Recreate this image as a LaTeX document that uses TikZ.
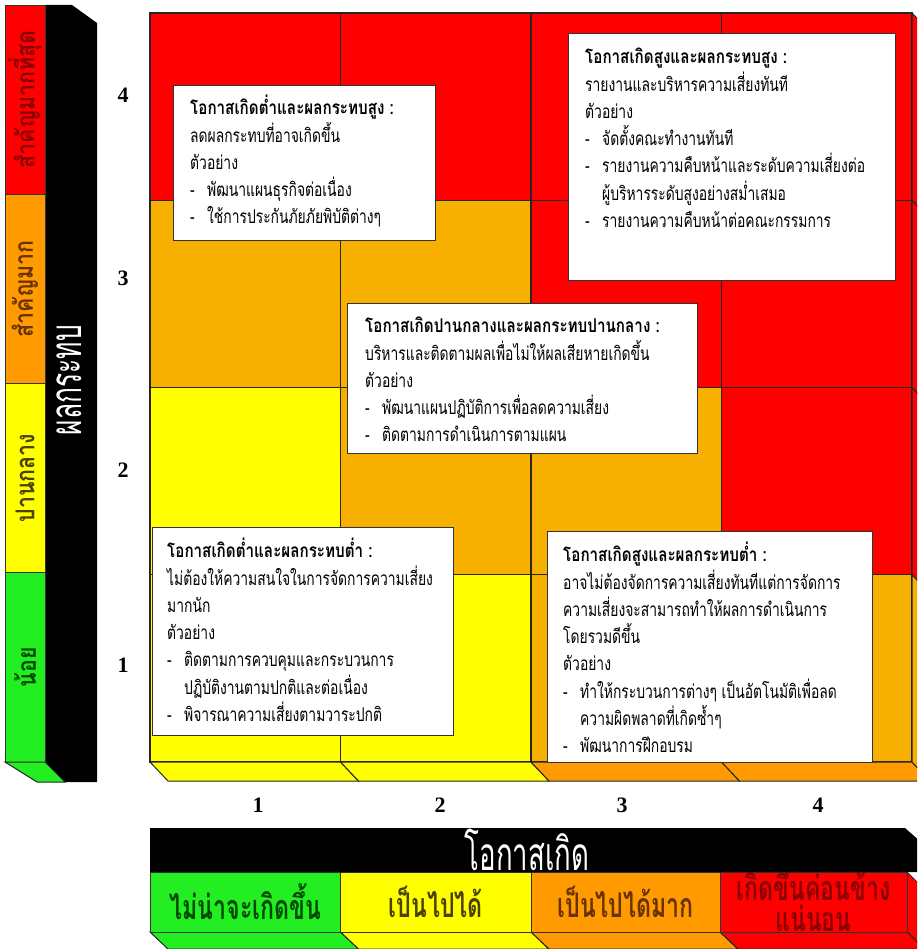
\documentclass[tikz,border=0pt]{standalone}
\usepackage{fontspec}
\usetikzlibrary{positioning}
\newfontfamily\thaifont[Script=Thai,FakeStretch=0.73]{Loma}
\newfontfamily\thaihead[Script=Thai,FakeStretch=0.8]{Loma}
\newfontfamily\thaileg[Script=Thai,FakeStretch=0.68]{Loma}
\newfontfamily\thaiside[Script=Thai,FakeStretch=0.82]{Loma}
\newfontfamily\thaitall[Script=Thai,FakeStretch=0.6]{Loma}
\newfontfamily\numfont{Liberation Serif}
\definecolor{riskred}{HTML}{FF0000}
\definecolor{riskamber}{HTML}{F8B000}
\definecolor{riskorange}{HTML}{FF9A00}
\definecolor{riskyellow}{HTML}{FFFF00}
\definecolor{riskgreen}{HTML}{22EE22}
\definecolor{darkred}{HTML}{8A0000}
\definecolor{darkorange}{HTML}{6A3200}
\definecolor{darkyellow}{HTML}{4A4000}
\definecolor{darkgreen}{HTML}{004A00}
\newcommand{\hd}[1]{{\thaihead\bfseries #1}}
\newcommand{\itm}[1]{\makebox[17pt][l]{-}#1}
\newcommand{\cnt}[1]{\hspace*{17pt}#1}

\begin{document}
\begin{tikzpicture}[x=1pt,y=-1pt,
  cell/.style={draw=black!85,line width=1.1pt,minimum width=190.5pt,minimum height=187.25pt,
    inner sep=0pt,outer sep=0pt,anchor=north west},
  face/.style={draw=black!85,line width=1pt},
  infobox/.style={draw=black!80,fill=white,line width=0.8pt,anchor=north west,inner sep=0pt},
  infotext/.style={anchor=north west,align=left,inner sep=0pt,
    font=\thaifont\fontsize{19}{27.3}\selectfont},
  axisnum/.style={font=\numfont\bfseries\fontsize{22}{22}\selectfont},
  legcell/.style={draw=black!80,line width=0.8pt,inner sep=0pt,rotate=90,minimum height=40pt,
    minimum width=189.25pt,font=\thaiside\bfseries\fontsize{26}{26}\selectfont},
  likecell/.style={draw=black!80,line width=0.8pt,inner sep=0pt,minimum height=60pt,
    font=\thaileg\bfseries\fontsize{34}{31}\selectfont},
  axistitle/.style={text=white,inner sep=0pt}]
\useasboundingbox (0,0) rectangle (917,949);
\clip (0,0) rectangle (917,949);

\foreach \r/\ca/\cb/\cc/\cd in {4/riskred/riskred/riskred/riskred,
    3/riskamber/riskamber/riskred/riskred,
    2/riskyellow/riskamber/riskamber/riskred,
    1/riskyellow/riskyellow/riskamber/riskamber}
  \foreach \k/\clr in {1/\ca,2/\cb,3/\cc,4/\cd}
    \node[cell,fill=\clr] (cell\r\k) at ({150+190.5*(\k-1)},{13+187.25*(4-\r)}) {};
\foreach \k/\clr in {1/riskyellow,2/riskyellow,3/riskorange,4/riskorange}
  \draw[face,fill=\clr] ({150+190.5*(\k-1)},762) -- ++(190.5,0) -- ++(18,19) -- ++(-190.5,0) -- cycle;
\foreach \r/\clr in {4/riskred,3/riskred,2/riskred,1/riskamber}
  \draw[face,fill=\clr] (912,{13+187.25*(4-\r)}) -- ++(18,19) -- ++(0,187.25) -- ++(-18,-19) -- cycle;

\node[infobox,minimum width=262pt,minimum height=155pt] (boxLH) at (173,85) {};
\node[infotext] (txtLH) at (190,95) {\hd{โอกาสเกิดต่ำและผลกระทบสูง :}\\
  ลดผลกระทบที่อาจเกิดขึ้น\\
  ตัวอย่าง\\
  \itm{พัฒนาแผนธุรกิจต่อเนื่อง}\\
  \itm{ใช้การประกันภัยภัยพิบัติต่างๆ}};
\node[infobox,minimum width=327pt,minimum height=247pt] (boxHH) at (568,33) {};
\node[infotext] (txtHH) at (585,48) {\hd{โอกาสเกิดสูงและผลกระทบสูง :}\\
  รายงานและบริหารความเสี่ยงทันที\\
  ตัวอย่าง\\
  \itm{จัดตั้งคณะทำงานทันที}\\
  \itm{รายงานความคืบหน้าและระดับความเสี่ยงต่อ}\\
  \cnt{ผู้บริหารระดับสูงอย่างสม่ำเสมอ}\\
  \itm{รายงานความคืบหน้าต่อคณะกรรมการ}};
\node[infobox,minimum width=350pt,minimum height=150pt] (boxMM) at (347,303) {};
\node[infotext] (txtMM) at (365,317) {\hd{โอกาสเกิดปานกลางและผลกระทบปานกลาง :}\\
  บริหารและติดตามผลเพื่อไม่ให้ผลเสียหายเกิดขึ้น\\
  ตัวอย่าง\\
  \itm{พัฒนาแผนปฏิบัติการเพื่อลดความเสี่ยง}\\
  \itm{ติดตามการดำเนินการตามแผน}};
\node[infobox,minimum width=301pt,minimum height=208pt] (boxLL) at (152,527) {};
\node[infotext] (txtLL) at (167,538) {\hd{โอกาสเกิดต่ำและผลกระทบต่ำ :}\\
  ไม่ต้องให้ความสนใจในการจัดการความเสี่ยง\\
  มากนัก\\
  ตัวอย่าง\\
  \itm{ติดตามการควบคุมและกระบวนการ}\\
  \cnt{ปฏิบัติงานตามปกติและต่อเนื่อง}\\
  \itm{พิจารณาความเสี่ยงตามวาระปกติ}};
\node[infobox,minimum width=325pt,minimum height=231pt] (boxHL) at (547,531) {};
\node[infotext] (txtHL) at (563,542) {\hd{โอกาสเกิดสูงและผลกระทบต่ำ :}\\
  อาจไม่ต้องจัดการความเสี่ยงทันทีแต่การจัดการ\\
  ความเสี่ยงจะสามารถทำให้ผลการดำเนินการ\\
  โดยรวมดีขึ้น\\
  ตัวอย่าง\\
  \itm{ทำให้กระบวนการต่างๆ เป็นอัตโนมัติเพื่อลด}\\
  \cnt{ความผิดพลาดที่เกิดซ้ำๆ}\\
  \itm{พัฒนาการฝึกอบรม}};

\fill[black] (45,5) -- (72,5) -- (97,23) -- (97,782) -- (65,782) -- (45,762) -- cycle;
\node[legcell,fill=riskred,text=darkred] (imp4) at (25,99.6) {สำคัญมากที่สุด};
\node[legcell,fill=riskorange,text=darkorange] (imp3) at (25,288.9) {สำคัญมาก};
\node[legcell,fill=riskyellow,text=darkyellow] (imp2) at (25,478.1) {ปานกลาง};
\node[legcell,fill=riskgreen,text=darkgreen] (imp1) at (25,667.4) {น้อย};
\draw[face,fill=riskgreen] (5,762) -- (45,762) -- (65,782) -- (37,782) -- cycle;
\node[axistitle,rotate=90,font=\thaitall\fontsize{44}{44}\selectfont] (impact) at (69,380) {ผลกระทบ};

\foreach \n/\yy in {4/95,3/278,2/470,1/665}
  \node[axisnum] (improw\n) at (123,\yy) {\n};
\foreach \n/\xx in {1/258,2/440,3/622,4/818}
  \node[axisnum] (likecol\n) at (\xx,805) {\n};

\draw[face,fill=riskred] (907,872) -- ++(18,18) -- ++(0,60) -- ++(-18,-18) -- cycle;
\foreach \xa/\w/\clr in {150/190.5/riskgreen,340.5/190.5/riskyellow,531/189/riskorange,720/187/riskred}
  \draw[face,fill=\clr] (\xa,932) -- ++(\w,0) -- ++(18,17) -- ++(-\w,0) -- cycle;
\node[likecell,fill=riskgreen,text=darkgreen,minimum width=190.5pt] (like1) at (245.25,902) {ไม่น่าจะเกิดขึ้น};
\node[likecell,fill=riskyellow,text=darkyellow,minimum width=190.5pt] (like2) at (435.75,902) {เป็นไปได้};
\node[likecell,fill=riskorange,text=darkorange,minimum width=189pt] (like3) at (625.5,902) {เป็นไปได้มาก};
\node[likecell,fill=riskred,text=darkred,minimum width=187pt,align=center] (like4) at (813.5,902) {};
\node[inner sep=0pt,text=darkred,align=center,font=\thaileg\bfseries\fontsize{34}{31}\selectfont]
  (like4txt) at (813.5,898) {เกิดขึ้นค่อนข้าง\\แน่นอน};
\fill[black] (150,828) -- (905,828) -- (930,850) -- (930,872) -- (150,872) -- cycle;
\node[axistitle,font=\thaitall\fontsize{46}{46}\selectfont] (likelihood) at (527,850) {โอกาสเกิด};
\end{tikzpicture}
\end{document}
